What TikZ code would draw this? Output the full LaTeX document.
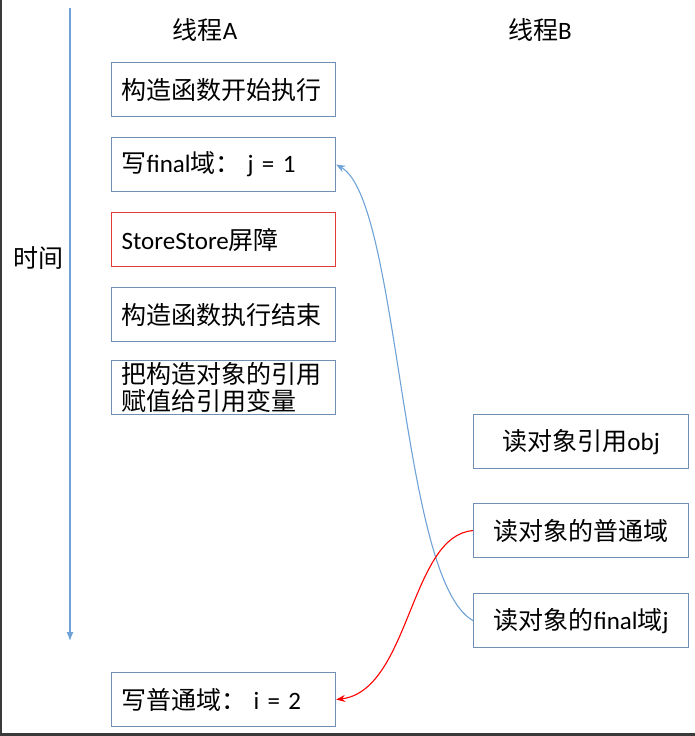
\documentclass[tikz,border=0pt]{standalone}
\usepackage{fontspec}
\setmainfont{Noto Sans CJK SC}
\newfontfamily\lat{Carlito}
\usetikzlibrary{arrows.meta}
\definecolor{boxblue}{HTML}{6F8FB5}
\definecolor{lineblue}{HTML}{6FA3D8}
\definecolor{boxred}{HTML}{E03A3A}
\definecolor{frame}{HTML}{3A3A3A}
\begin{document}
\begin{tikzpicture}[x=1pt,y=-1pt,
    font=\fontsize{25}{27}\selectfont,
    stepA/.style={draw=boxblue,line width=1.2pt,inner xsep=10pt,inner ysep=0pt,
        text width=204pt,align=left,minimum height=54pt,anchor=north west},
    stepB/.style={draw=boxblue,line width=1.2pt,inner sep=0pt,
        minimum width=215pt,minimum height=54pt,anchor=north west},
    link/.style={line width=1.1pt,-{Stealth[length=9pt,width=7pt]}}]
    \useasboundingbox (0,0) rectangle (695,736);

    % Rahmen
    \draw[frame,line width=2.5pt] (1,0) -- (1,734.5) -- (695,734.5);

    % Zeitachse
    \coordinate (t0) at (70,8);
    \coordinate (t1) at (70,641);
    \draw[lineblue,line width=1.2pt,-{Latex[length=9pt,width=7pt]}] (t0) -- (t1);
    \node (time) at (38,258) {时间};

    % Thread A
    \node (threadA) at (205,30) {线程{\lat A}};
    \node[stepA] (a1) at (111,62) {构造函数开始执行};
    \node[stepA] (a2) at (111,137) {写{\lat final}域：\hspace{7pt}{\lat j = 1}};
    \node[stepA,draw=boxred] (a3) at (111,212) {{\lat StoreStore}屏障};
    \node[stepA] (a4) at (111,287) {构造函数执行结束};
    \node[stepA] (a5) at (111,360) {把构造对象的引用\\赋值给引用变量};
    \node[stepA] (a6) at (111,672) {写普通域：\hspace{7pt}{\lat i = 2}};

    % Thread B
    \node (threadB) at (540,30) {线程{\lat B}};
    \node[stepB] (b1) at (473,414) {读对象引用{\lat obj}};
    \node[stepB] (b2) at (473,503) {读对象的普通域};
    \node[stepB] (b3) at (473,593) {读对象的{\lat final}域{\lat j}};

    % Lesezugriffe
    \draw[link,lineblue] (b3.west) .. controls (400,580) and (400,200) .. (a2.east);
    \draw[link,red] (b2.west) .. controls (410,535) and (410,690) .. (a6.east);
\end{tikzpicture}
\end{document}
